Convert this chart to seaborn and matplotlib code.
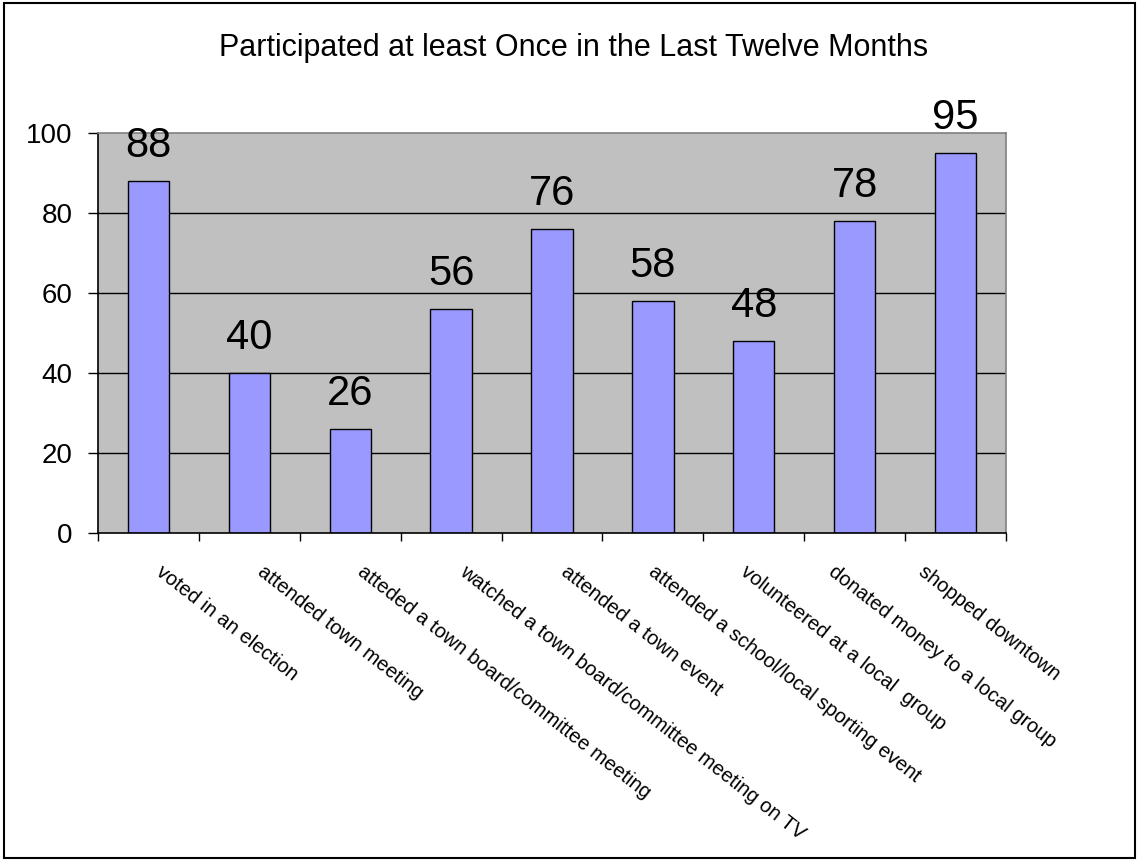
import pandas as pd
import matplotlib.pyplot as plt
import matplotlib.patches as mpatches
import matplotlib.transforms as mtransforms
import seaborn as sns

# data
activities = ['voted in an election', 'attended town meeting',
              'atteded a town board/committee meeting',
              'watched a town board/committee meeting on TV',
              'attended a town event', 'attended a school/local sporting event',
              'volunteered at a local  group', 'donated money to a local group',
              'shopped downtown']
percent = [88, 40, 26, 56, 76, 58, 48, 78, 95]
y_ticks = [0, 20, 40, 60, 80, 100]
title = 'Participated at least Once in the Last Twelve Months'

# horizontal nudge of each rotated label in pixels (the original squeezes the right ones)
label_nudge_px = [16, 16, 15, 17, 17, 4, -5, -18, -29]

sns.set_style('white')
plt.rcParams['font.family'] = ['Liberation Sans', 'DejaVu Sans']
plt.rcParams['text.color'] = 'black'
plt.rcParams['xtick.color'] = 'black'
plt.rcParams['ytick.color'] = 'black'

df = pd.DataFrame({'activity': activities, 'percent': percent})

fig = plt.figure(figsize=(11.38, 8.6), dpi=100)
ax = fig.add_axes([0.0861, 0.3802, 0.884 - 0.0861, 0.8453 - 0.3802])
ax.set_facecolor('#C0C0C0')

# gridlines behind bars
for y in y_ticks[1:-1]:
    ax.axhline(y, color='black', lw=1, zorder=0)

sns.barplot(data=df, x='activity', y='percent', color='#9999FF',
            edgecolor='black', linewidth=1, width=0.41, saturation=1, ax=ax, zorder=2)

for i, v in enumerate(percent):
    ax.annotate(str(v), (i, v), xytext=(0, 17), textcoords='offset points',
                ha='center', va='baseline', fontsize=30, color='black')

ax.set_xlim(-0.5, len(activities) - 0.5)
ax.set_ylim(0, 100)
ax.set_yticks(y_ticks)
ax.set_yticklabels([str(t) for t in y_ticks], fontsize=20)
ax.tick_params(axis='y', direction='out', length=7.5, width=1, pad=11, left=True)

ax.set_xticks(range(len(activities)))
ax.set_xticklabels(activities, rotation=-38, ha='left', rotation_mode='anchor', fontsize=14.5)
ax.tick_params(axis='x', length=0, pad=21)
ax.set_xticks([i - 0.5 for i in range(len(activities) + 1)], minor=True)
ax.tick_params(axis='x', which='minor', direction='out', length=6, width=1, bottom=True)
for lbl, dx in zip(ax.get_xticklabels(), label_nudge_px):
    shift = mtransforms.ScaledTranslation(dx / 100, 0, fig.dpi_scale_trans)
    lbl.set_transform(lbl.get_transform() + shift)

ax.set_xlabel('')
ax.set_ylabel('')
for side in ['top', 'right']:
    ax.spines[side].set_color('#808080')
    ax.spines[side].set_linewidth(1.2)
for side in ['left', 'bottom']:
    ax.spines[side].set_color('black')
    ax.spines[side].set_linewidth(1.2)

fig.text(0.504, 0.944, title, ha='center', va='center', fontsize=22)

# outer chart border
fig.patches.append(mpatches.Rectangle((4 / 1138, 2 / 860), 1131 / 1138, 855 / 860,
                                      transform=fig.transFigure, fill=False,
                                      edgecolor='black', lw=1.5))

plt.savefig('out.png', dpi=100)
